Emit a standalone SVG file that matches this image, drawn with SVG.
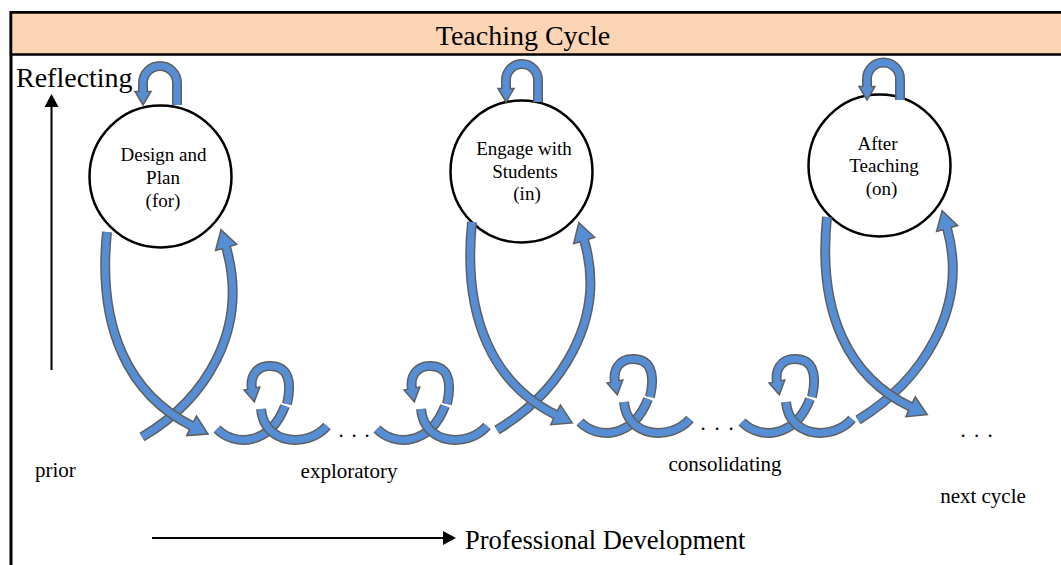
<svg xmlns="http://www.w3.org/2000/svg" width="1061" height="565" viewBox="0 0 1061 565">
<style>
.o{fill:none;stroke:#5f5f5f;stroke-width:10}
.f{fill:none;stroke:#558ED5;stroke-width:7}
.t{font-family:"Liberation Serif","Times New Roman",serif;fill:#000}
.node circle{fill:#fff;stroke:#000;stroke-width:2.5}
.node text{font-family:"Liberation Serif","Times New Roman",serif;font-size:19px;text-anchor:middle}
</style>
<defs>
<marker id="bh" markerUnits="userSpaceOnUse" orient="auto" refX="0" refY="0" markerWidth="30" markerHeight="30" overflow="visible">
<path d="M-0.5,-3.5 L-0.5,-11 L18,0 L-0.5,11 L-0.5,3.5" fill="#558ED5" stroke="#5f5f5f" stroke-width="1.5"/>
</marker>
<marker id="sh" markerUnits="userSpaceOnUse" orient="auto" refX="0" refY="0" markerWidth="30" markerHeight="30" overflow="visible">
<path d="M-0.5,-3.5 L-0.5,-8 L13,0 L-0.5,8 L-0.5,3.5" fill="#558ED5" stroke="#5f5f5f" stroke-width="1.5"/>
</marker>
<marker id="ah" markerUnits="userSpaceOnUse" orient="auto" refX="0" refY="0" markerWidth="20" markerHeight="20" overflow="visible">
<path d="M0,-7 L13,0 L0,7 Z" fill="#000"/>
</marker>
</defs>
<rect x="0" y="0" width="1061" height="565" fill="#fff"/>
<g id="frame">
<rect x="11" y="12.5" width="1080" height="600" fill="none" stroke="#000" stroke-width="3"/>
<rect x="11" y="12.5" width="1080" height="42" fill="#FBD4B4" stroke="#000" stroke-width="2.5"/>
<text class="t" x="523" y="45" font-size="28" text-anchor="middle">Teaching Cycle</text>
</g>
<g id="axes">
<text class="t" x="16" y="87" font-size="28">Reflecting</text>
<line x1="51.5" y1="370" x2="51.5" y2="107" stroke="#000" stroke-width="2" marker-end="url(#ah)"/>
<line x1="152" y1="538" x2="443" y2="538" stroke="#000" stroke-width="2" marker-end="url(#ah)"/>
<text class="t" x="465" y="549" font-size="26.5">Professional Development</text>
</g>
<g id="node-design" class="node">
<circle cx="160.5" cy="176.5" r="71"/>
<text x="163.5" y="161">Design and</text>
<text x="163" y="184">Plan</text>
<text x="163" y="207">(for)</text>
</g>
<g id="node-engage" class="node">
<circle cx="521.5" cy="171.5" r="71"/>
<text x="524" y="155">Engage with</text>
<text x="525" y="178">Students</text>
<text x="527" y="200">(in)</text>
</g>
<g id="node-after" class="node">
<circle cx="879.5" cy="165.5" r="71"/>
<text x="877.5" y="150">After</text>
<text x="884" y="172">Teaching</text>
<text x="881.5" y="195">(on)</text>
</g>
<g id="connectors">
<g id="self-loops">
<path class="o" d="M177,105 L177,83 A17,17 0 0 0 143,83 L143,92"/>
<path class="f" d="M177,105 L177,83 A17,17 0 0 0 143,83 L143,92" marker-end="url(#sh)"/>
<path class="o" d="M538,102 L538,80 A16,16 0 0 0 506,80 L506,89"/>
<path class="f" d="M538,102 L538,80 A16,16 0 0 0 506,80 L506,89" marker-end="url(#sh)"/>
<path class="o" d="M900,100 L900,79 A16.5,16.5 0 0 0 867,79 L867,87"/>
<path class="f" d="M900,100 L900,79 A16.5,16.5 0 0 0 867,79 L867,87" marker-end="url(#sh)"/>
</g>
<g id="big-arrows">
<path class="o" d="M142,437 C205,400 250,330 226,247"/>
<path class="f" d="M142,437 C205,400 250,330 226,247" marker-end="url(#bh)"/>
<path class="o" d="M107,232 C97,330 130,395 192,426"/>
<path class="f" d="M107,232 C97,330 130,395 192,426" marker-end="url(#bh)"/>
<path class="o" d="M497,430 C560,392 608,320 584,240"/>
<path class="f" d="M497,430 C560,392 608,320 584,240" marker-end="url(#bh)"/>
<path class="o" d="M472,222 C462,320 495,385 556,415"/>
<path class="f" d="M472,222 C462,320 495,385 556,415" marker-end="url(#bh)"/>
<path class="o" d="M858,420 C920,382 970,310 947,228"/>
<path class="f" d="M858,420 C920,382 970,310 947,228" marker-end="url(#bh)"/>
<path class="o" d="M827,217 C817,315 850,378 911,407"/>
<path class="f" d="M827,217 C817,315 850,378 911,407" marker-end="url(#bh)"/>
</g>
<g id="curl-1">
<path class="o" d="M217,429 C235,447 270,445 285,406"/>
<path class="f" d="M217,429 C235,447 270,445 285,406"/>
<path class="o" d="M287,404 C293,378 286,366 270,366 C255,366 250,378 252,389"/>
<path class="f" d="M287,404 C293,378 286,366 270,366 C255,366 250,378 252,389" marker-end="url(#sh)"/>
<path class="o" d="M261,409 C264,445 308,448 327,426"/>
<path class="f" d="M261,409 C264,445 308,448 327,426"/>
</g>
<g id="curl-2" transform="translate(160,0)">
<path class="o" d="M217,429 C235,447 270,445 285,406"/>
<path class="f" d="M217,429 C235,447 270,445 285,406"/>
<path class="o" d="M287,404 C293,378 286,366 270,366 C255,366 250,378 252,389"/>
<path class="f" d="M287,404 C293,378 286,366 270,366 C255,366 250,378 252,389" marker-end="url(#sh)"/>
<path class="o" d="M261,409 C264,445 308,448 327,426"/>
<path class="f" d="M261,409 C264,445 308,448 327,426"/>
</g>
<g id="curl-3" transform="translate(363,-7)">
<path class="o" d="M217,429 C235,447 270,445 285,406"/>
<path class="f" d="M217,429 C235,447 270,445 285,406"/>
<path class="o" d="M287,404 C293,378 286,366 270,366 C255,366 250,378 252,389"/>
<path class="f" d="M287,404 C293,378 286,366 270,366 C255,366 250,378 252,389" marker-end="url(#sh)"/>
<path class="o" d="M261,409 C264,445 308,448 327,426"/>
<path class="f" d="M261,409 C264,445 308,448 327,426"/>
</g>
<g id="curl-4" transform="translate(525,-7)">
<path class="o" d="M217,429 C235,447 270,445 285,406"/>
<path class="f" d="M217,429 C235,447 270,445 285,406"/>
<path class="o" d="M287,404 C293,378 286,366 270,366 C255,366 250,378 252,389"/>
<path class="f" d="M287,404 C293,378 286,366 270,366 C255,366 250,378 252,389" marker-end="url(#sh)"/>
<path class="o" d="M261,409 C264,445 308,448 327,426"/>
<path class="f" d="M261,409 C264,445 308,448 327,426"/>
</g>
</g>
<g id="labels">
<text class="t" x="338.4" y="437" font-size="21" letter-spacing="7.75">...</text>
<text class="t" x="700.4" y="430" font-size="21" letter-spacing="8.75">...</text>
<text class="t" x="960.4" y="437" font-size="21" letter-spacing="8.25">...</text>
<text class="t" x="35" y="477" font-size="21">prior</text>
<text class="t" x="349" y="478" font-size="21" text-anchor="middle">exploratory</text>
<text class="t" x="725" y="471" font-size="21" text-anchor="middle">consolidating</text>
<text class="t" x="983" y="503" font-size="21" text-anchor="middle">next cycle</text>
</g>
</svg>
